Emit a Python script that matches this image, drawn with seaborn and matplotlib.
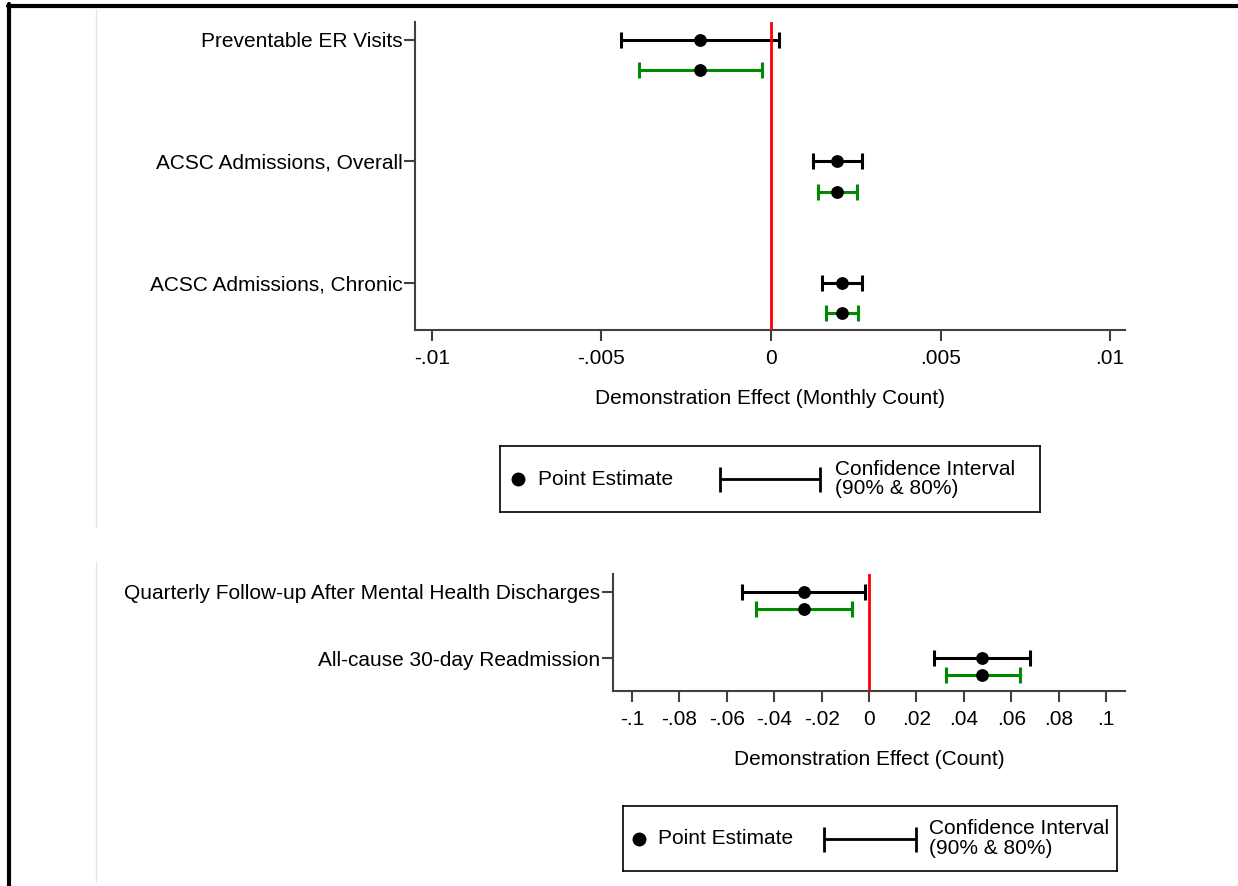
import numpy as np
import pandas as pd
import matplotlib.pyplot as plt
import seaborn as sns
from matplotlib.lines import Line2D
from matplotlib.ticker import FuncFormatter

# top panel: monthly counts
top_labels = ["Preventable ER Visits", "ACSC Admissions, Overall", "ACSC Admissions, Chronic"]
top_est = [-0.0021, 0.00196, 0.00208]
top_lo90 = [-0.00443, 0.00124, 0.00150]
top_hi90 = [0.00024, 0.00268, 0.00268]
top_lo80 = [-0.00390, 0.00140, 0.00163]
top_hi80 = [-0.00026, 0.00253, 0.00257]
top_ticks = [-0.01, -0.005, 0, 0.005, 0.01]

# bottom panel: counts
bot_labels = ["Quarterly Follow-up After Mental Health Discharges", "All-cause 30-day Readmission"]
bot_est = [-0.0276, 0.0477]
bot_lo90 = [-0.0534, 0.0276]
bot_hi90 = [-0.0016, 0.0681]
bot_lo80 = [-0.0478, 0.0324]
bot_hi80 = [-0.0070, 0.0637]
bot_ticks = [-0.1, -0.08, -0.06, -0.04, -0.02, 0, 0.02, 0.04, 0.06, 0.08, 0.1]

GREEN = '#008a00'
SPINE = '#404040'

sns.set_style('ticks')
plt.rcParams['font.family'] = ['Liberation Sans', 'DejaVu Sans']
plt.rcParams['font.size'] = 15
plt.rcParams['text.color'] = 'black'
plt.rcParams['axes.labelcolor'] = 'black'


def stata_fmt(v, pos=None):
    s = f"{v:g}"
    if s in ("0", "-0"):
        return "0"
    return s.replace("0.", ".")


def draw_panel(ax, labels, est, lo90, hi90, lo80, hi80, ticks, xlim, ylim, xlabel):
    n = len(labels)
    ypos = np.arange(n)
    est = np.asarray(est)
    rows = []
    for i in range(n):
        rows.append({'est': est[i], 'y': ypos[i], 'lo': lo90[i], 'hi': hi90[i], 'c': 'black'})
        rows.append({'est': est[i], 'y': ypos[i] + 0.25, 'lo': lo80[i], 'hi': hi80[i], 'c': GREEN})
    df = pd.DataFrame(rows)
    for c, sub in df.groupby('c'):
        ax.errorbar(sub['est'], sub['y'], xerr=[sub['est'] - sub['lo'], sub['hi'] - sub['est']],
                    fmt='none', ecolor=c, elinewidth=2.2, capsize=6, capthick=2.2, zorder=2)
    ax.axvline(0, color='red', lw=2, zorder=3)
    sns.scatterplot(data=df, x='est', y='y', color='black', s=85, edgecolor='black',
                    linewidth=0, ax=ax, zorder=4, legend=False)
    ax.set_xlim(*xlim)
    ax.set_ylim(*ylim)
    ax.set_yticks(ypos)
    ax.set_yticklabels(labels)
    ax.set_xticks(ticks)
    ax.xaxis.set_major_formatter(FuncFormatter(stata_fmt))
    ax.set_xlabel(xlabel, labelpad=15, color='black')
    ax.set_ylabel('')
    sns.despine(ax=ax)
    for sp in ('left', 'bottom'):
        ax.spines[sp].set_color(SPINE)
        ax.spines[sp].set_linewidth(1.5)
    ax.tick_params(axis='both', length=8, width=1.5, color=SPINE, labelcolor='black')
    ax.tick_params(axis='y', pad=1)
    ax.tick_params(axis='x', pad=6)


def draw_key(fig, rect):
    k = fig.add_axes(rect)
    k.set_xlim(0, 1)
    k.set_ylim(0, 1)
    k.set_xticks([])
    k.set_yticks([])
    for sp in k.spines.values():
        sp.set_visible(True)
        sp.set_color('black')
        sp.set_linewidth(1.2)
    k.plot([0.033], [0.5], 'o', color='black', ms=9)
    k.text(0.07, 0.5, 'Point Estimate', va='center', ha='left', fontsize=15, color='black')
    k.errorbar([0.5], [0.5], xerr=[[0.093]], fmt='none', ecolor='black',
               elinewidth=2, capsize=9, capthick=2)
    k.text(0.62, 0.5, 'Confidence Interval\n(90% & 80%)', va='center', ha='left',
           fontsize=15, linespacing=1.05, color='black')


fig = plt.figure(figsize=(12.38, 8.86), dpi=100)

ax1 = fig.add_axes([0.3352, 0.6275, 0.5735, 0.3477])
draw_panel(ax1, top_labels, top_est, top_lo90, top_hi90, top_lo80, top_hi80, top_ticks,
           (-0.0105, 0.01044), (2.387, -0.148), 'Demonstration Effect (Monthly Count)')

ax2 = fig.add_axes([0.4952, 0.2201, 0.4135, 0.1320])
draw_panel(ax2, bot_labels, bot_est, bot_lo90, bot_hi90, bot_lo80, bot_hi80, bot_ticks,
           (-0.108, 0.108), (1.49, -0.27), 'Demonstration Effect (Count)')

draw_key(fig, [0.4039, 0.4221, 0.4362, 0.0745])
draw_key(fig, [0.5032, 0.0169, 0.3990, 0.0734])

# faint separators and outer frame
fig.add_artist(Line2D([96 / 1238] * 2, [1 - 10 / 886, 1 - 527 / 886], color='#e6e6e6', lw=1))
fig.add_artist(Line2D([96 / 1238] * 2, [1 - 562 / 886, 1 - 882 / 886], color='#e6e6e6', lw=1))
fig.add_artist(Line2D([8 / 1238, 1], [1 - 5.5 / 886] * 2, color='black', lw=3))
fig.add_artist(Line2D([9 / 1238] * 2, [0, 1 - 4 / 886], color='black', lw=3))

fig.savefig('out.png', dpi=100)
